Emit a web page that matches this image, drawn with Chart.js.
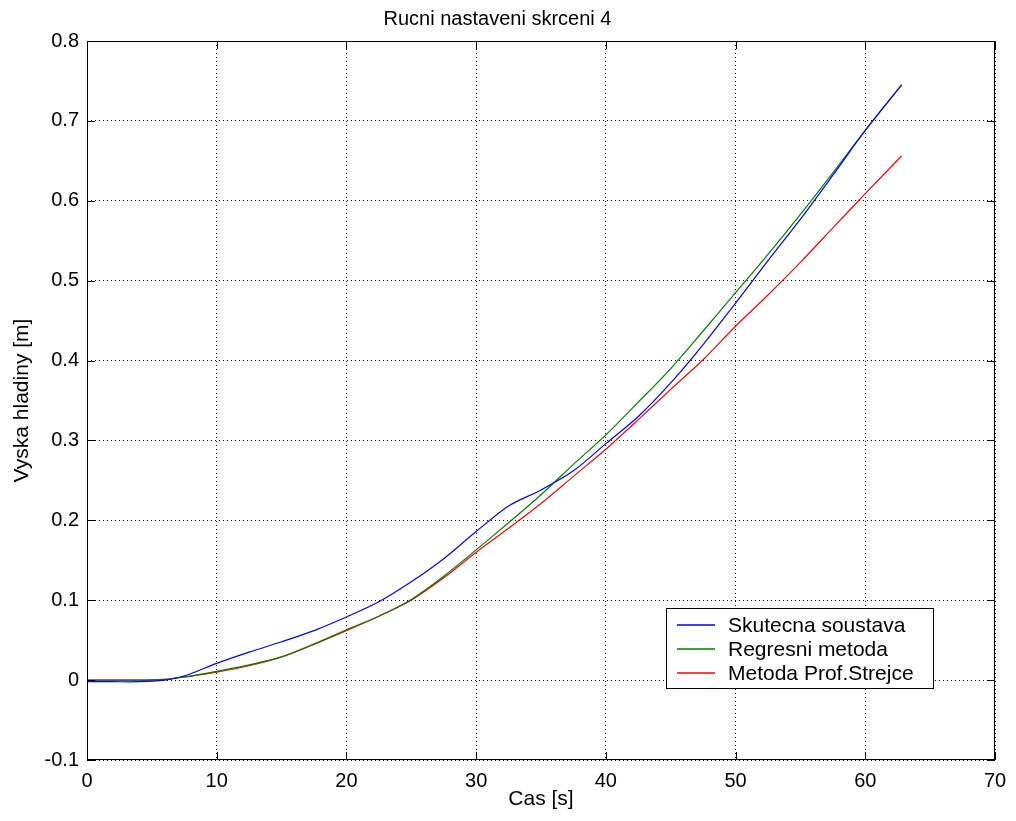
<!DOCTYPE html>
<html>
<head>
<meta charset="utf-8">
<script src="https://cdn.jsdelivr.net/npm/chart.js@4/dist/chart.umd.min.js"></script>
<style>
  html, body { margin: 0; padding: 0; background: #fff; }
  #wrap { width: 1016px; height: 821px; }
</style>
</head>
<body>
<div id="wrap"><canvas id="c" width="1016" height="821"></canvas></div>
<script>
// ── Data ──────────────────────────────────────────────
const time = [0, 2, 4, 6, 7, 8, 10, 12.5, 15, 17.5, 20, 22.5, 25, 27.5, 30, 32.5, 35, 37.5, 40, 42.5, 45, 47.5, 50, 52.5, 55, 57.5, 60, 62.8];

const skutecna = [-0.002, -0.002, -0.002, 0.0, 0.003, 0.008, 0.021, 0.035, 0.048, 0.062, 0.079, 0.098, 0.123, 0.152, 0.186, 0.218, 0.238, 0.262, 0.296, 0.33, 0.372, 0.42, 0.472, 0.525, 0.577, 0.632, 0.688, 0.745];
const regresni = [0, 0, 0, 0.001, 0.003, 0.005, 0.011, 0.019, 0.029, 0.045, 0.063, 0.08, 0.101, 0.13, 0.163, 0.197, 0.232, 0.27, 0.307, 0.348, 0.39, 0.437, 0.485, 0.533, 0.583, 0.635, 0.688, 0.745];
const strejc = [0, 0, 0, 0.001, 0.003, 0.005, 0.01, 0.018, 0.029, 0.045, 0.062, 0.08, 0.1, 0.128, 0.16, 0.19, 0.221, 0.255, 0.289, 0.326, 0.364, 0.401, 0.443, 0.482, 0.523, 0.566, 0.609, 0.656];

const seriesNames = ['Skutecna soustava', 'Regresni metoda', 'Metoda Prof.Strejce'];
const seriesColors = ['#0000ff', '#008000', '#ff0000'];

const xTicks = [0, 10, 20, 30, 40, 50, 60, 70];
const yTicks = [-0.1, 0, 0.1, 0.2, 0.3, 0.4, 0.5, 0.6, 0.7, 0.8];

const FONT = '"Liberation Sans", Arial, sans-serif';

const toPoints = ys => time.map((t, i) => ({ x: t, y: ys[i] }));

// ── Plugins: box, inward ticks, legend inside plot ────
const boxAndTicks = {
  id: 'boxAndTicks',
  afterDatasetsDraw(chart) {
    const { ctx, chartArea: a, scales: { x, y } } = chart;
    ctx.save();
    ctx.strokeStyle = '#000';
    ctx.lineWidth = 1;
    ctx.strokeRect(a.left + 0.5, a.top + 0.5, a.right - a.left - 1, a.bottom - a.top - 1);
    ctx.beginPath();
    const len = 8;
    xTicks.forEach(v => {
      const px = Math.round(x.getPixelForValue(v)) + 0.5;
      ctx.moveTo(px, a.bottom); ctx.lineTo(px, a.bottom - len);
      ctx.moveTo(px, a.top); ctx.lineTo(px, a.top + len);
    });
    yTicks.forEach(v => {
      const py = Math.round(y.getPixelForValue(v)) + 0.5;
      ctx.moveTo(a.left, py); ctx.lineTo(a.left + len, py);
      ctx.moveTo(a.right, py); ctx.lineTo(a.right - len, py);
    });
    ctx.stroke();
    ctx.restore();
  }
};

const innerLegend = {
  id: 'innerLegend',
  afterDraw(chart) {
    const { ctx } = chart;
    const bx = 666, by = 608, bw = 267, bh = 80;
    ctx.save();
    ctx.fillStyle = '#fff';
    ctx.fillRect(bx, by, bw, bh);
    ctx.strokeStyle = '#000';
    ctx.lineWidth = 1;
    ctx.strokeRect(bx + 0.5, by + 0.5, bw, bh);
    ctx.font = '21px ' + FONT;
    ctx.textBaseline = 'middle';
    seriesNames.forEach((name, i) => {
      const ly = by + 17 + i * 24;
      ctx.beginPath();
      ctx.strokeStyle = seriesColors[i];
      ctx.lineWidth = 1.5;
      ctx.moveTo(677, ly);
      ctx.lineTo(715, ly);
      ctx.stroke();
      ctx.fillStyle = '#000';
      ctx.fillText(name, 728, ly + 1);
    });
    ctx.restore();
  }
};

// ── Chart ─────────────────────────────────────────────
new Chart(document.getElementById('c'), {
  type: 'scatter',
  data: {
    datasets: [skutecna, regresni, strejc].map((ys, i) => ({
      label: seriesNames[i],
      data: toPoints(ys),
      showLine: true,
      borderColor: seriesColors[i],
      borderWidth: 1.2,
      pointRadius: 0,
      tension: 0.3,
      fill: false,
    })),
  },
  options: {
    responsive: false,
    animation: false,
    layout: { padding: { left: 0, right: 21, top: 0, bottom: 0 } },
    plugins: {
      legend: { display: false },
      tooltip: { enabled: false },
      title: {
        display: true,
        text: 'Rucni nastaveni skrceni 4',
        color: '#000',
        font: { family: FONT, size: 20, weight: 'normal' },
        padding: { top: 7, bottom: 10 },
      },
    },
    scales: {
      x: {
        type: 'linear',
        min: 0, max: 70,
        afterBuildTicks: s => { s.ticks = xTicks.map(v => ({ value: v })); },
        afterFit: s => { s.height = 61; },
        grid: { color: '#000', drawTicks: false, lineWidth: 1 },
        border: { display: false, dash: [1, 3] },
        ticks: { color: '#000', padding: 9, font: { family: FONT, size: 20 } },
        title: { display: true, text: 'Cas [s]', color: '#000', padding: { top: 0, bottom: 9 }, font: { family: FONT, size: 21 } },
      },
      y: {
        type: 'linear',
        min: -0.1, max: 0.8,
        afterBuildTicks: s => { s.ticks = yTicks.map(v => ({ value: v })); },
        afterFit: s => { s.width = 87; },
        grid: { color: '#000', drawTicks: false, lineWidth: 1 },
        border: { display: false, dash: [1, 3] },
        ticks: { color: '#000', padding: 8, font: { family: FONT, size: 20 }, callback: v => String(Math.round(v * 10) / 10) },
        title: { display: true, text: 'Vyska hladiny [m]', color: '#000', padding: { top: 10, bottom: 0 }, font: { family: FONT, size: 21 } },
      },
    },
  },
  plugins: [boxAndTicks, innerLegend],
});
</script>
</body>
</html>
